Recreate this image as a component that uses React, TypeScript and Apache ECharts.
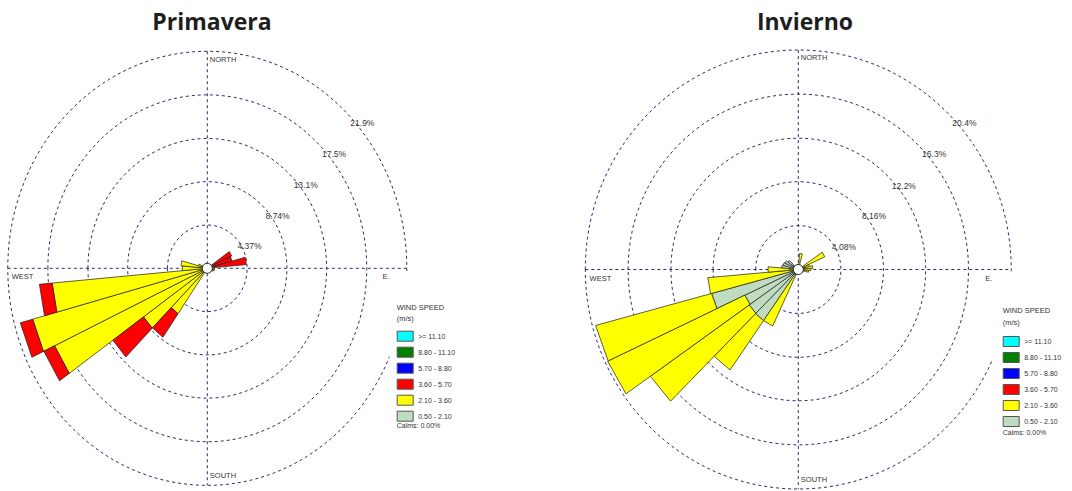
import { useEffect, useRef } from 'react';
import * as echarts from 'echarts';

// Wind speed classes (m/s), from slowest (innermost) to fastest
const speedBins = ['0.50 - 2.10', '2.10 - 3.60', '3.60 - 5.70', '5.70 - 8.80', '8.80 - 11.10', '>= 11.10'];
const speedColors = ['#C0DCC0', '#FFFF00', '#FF0000', '#0000FF', '#008000', '#00FFFF'];

// Primavera: frequency (%) per direction (degrees from north) and speed class
const primaveraDirections = [60, 70, 80, 100, 110, 120, 220, 230, 240, 250, 260, 270, 280, 290];
const primavera050 = [0, 0, 0, 0, 0, 0, 0, 0, 0, 0, 0, 0, 0, 0];
const primavera210 = [0.7, 0.7, 0.8, 0.8, 0.7, 0.5, 5.6, 8.55, 18.5, 19.85, 17.1, 2.75, 2.9, 1.0];
const primavera360 = [2.25, 2.1, 3.5, 0, 0, 0, 2.9, 4.1, 1.3, 1.4, 1.4, 0, 0, 0];
const primaveraRings = [4.37, 8.74, 13.1, 17.5, 21.9];

// Invierno: frequency (%) per direction (degrees from north) and speed class
const inviernoDirections = [10, 60, 70, 80, 90, 100, 210, 220, 230, 240, 250, 260, 270, 280, 290, 300, 310];
const invierno050 = [0.4, 0.5, 0.5, 0.6, 0.5, 0.6, 0.6, 5.8, 5.75, 5.65, 8.6, 0.6, 0.8, 1.6, 1.5, 1.4, 1.2];
const invierno210 = [1.1, 2.3, 0.6, 0.8, 0.7, 0.4, 5.2, 5.6, 11.55, 14.5, 11.5, 8.1, 2.1, 0, 0, 0, 0];
const inviernoRings = [4.08, 8.16, 12.2, 16.3, 20.4];

const calmsText = 'Calms: 0.00%';

const FONT = '"Liberation Sans", Arial, sans-serif';
const RING_COLOR = '#2c2c78';
const TEXT_COLOR = '#333333';

type Layout = {
  cx: number; cy: number; sx: number; sy: number; xr: number; yr: number;
  labelDx: number; labelDy: number;
  title: string; titleX: number;
  legendX: number; legendY: number; windY: number; unitY: number; calmsY: number;
  boxX: number; boxY: number;
};

const layouts: Layout[] = [
  {
    cx: 207.3, cy: 268.3, sx: 9.11, sy: 9.91, xr: 22, yr: 22, labelDx: 14, labelDy: 8.5,
    title: 'Primavera', titleX: 212,
    legendX: 396.7, legendY: 330.7, windY: 307.5, unitY: 318.8, calmsY: 425.5,
    boxX: 389.5, boxY: 271,
  },
  {
    cx: 798.3, cy: 269.5, sx: 10.44, sy: 10.76, xr: 21, yr: 20.5, labelDx: 15.5, labelDy: 9,
    title: 'Invierno', titleX: 805,
    legendX: 1002.7, legendY: 336, windY: 310.7, unitY: 322.3, calmsY: 432.3,
    boxX: 992, boxY: 272,
  },
];

const roses = [
  { directions: primaveraDirections, bins: [primavera050, primavera210, primavera360, [], [], []], rings: primaveraRings },
  { directions: inviernoDirections, bins: [invierno050, invierno210, [], [], [], []], rings: inviernoRings },
];

const dashed = { stroke: RING_COLOR, lineWidth: 1, lineDash: [3, 3] };

function buildOption() {
  const grid: any[] = [];
  const xAxis: any[] = [];
  const yAxis: any[] = [];
  const series: any[] = [];
  const graphic: any[] = [];
  const legend: any[] = [];
  const title: any[] = [];

  roses.forEach((rose, g) => {
    const L = layouts[g];
    grid.push({
      left: L.cx - L.xr * L.sx,
      width: 2 * L.xr * L.sx,
      top: L.cy - L.yr * L.sy,
      height: 2 * L.yr * L.sy,
      containLabel: false,
    });
    xAxis.push({ type: 'value', gridIndex: g, min: -L.xr, max: L.xr, show: false });
    yAxis.push({ type: 'value', gridIndex: g, min: -L.yr, max: L.yr, show: false });

    const R = rose.rings[rose.rings.length - 1];

    // Compass cross and direction names
    series.push({
      type: 'custom',
      name: 'frame' + g,
      coordinateSystem: 'cartesian2d',
      xAxisIndex: g,
      yAxisIndex: g,
      silent: true,
      z: 1,
      data: [[R, 0]],
      renderItem: (_p: any, api: any) => {
        const r = api.value(0);
        const top = api.coord([0, r]);
        const bottom = api.coord([0, -r]);
        const left = api.coord([-r, 0]);
        const right = api.coord([r, 0]);
        const n = api.coord([0, 0.964 * r]);
        const s = api.coord([0, -0.955 * r]);
        const w = api.coord([-0.98 * r, 0]);
        const e = api.coord([0.878 * r, 0]);
        const txt = (text: string, x: number, y: number) => ({
          type: 'text',
          x,
          y,
          style: { text, fontSize: 7.5, fontFamily: FONT, fill: TEXT_COLOR, align: 'left', verticalAlign: 'middle' },
        });
        return {
          type: 'group',
          children: [
            { type: 'line', shape: { x1: top[0], y1: top[1], x2: bottom[0], y2: bottom[1] }, style: dashed },
            { type: 'line', shape: { x1: left[0], y1: left[1], x2: right[0], y2: right[1] }, style: dashed },
            txt('NORTH', n[0] + 2.5, n[1]),
            txt('SOUTH', s[0] + 2.5, s[1]),
            txt('WEST', w[0], w[1] + 8.5),
            txt('E.', e[0], e[1] + 8.5),
          ],
        };
      },
    });

    // Frequency rings with their labels
    series.push({
      type: 'custom',
      name: 'rings' + g,
      coordinateSystem: 'cartesian2d',
      xAxisIndex: g,
      yAxisIndex: g,
      silent: true,
      z: 1,
      data: rose.rings.map((v) => [v, 0]),
      renderItem: (_p: any, api: any) => {
        const v = api.value(0);
        const c = api.coord([0, 0]);
        const sz = api.size([v, v]);
        const p = api.coord([v * Math.SQRT1_2, v * Math.SQRT1_2]);
        return {
          type: 'group',
          children: [
            { type: 'ellipse', shape: { cx: c[0], cy: c[1], rx: sz[0], ry: sz[1] }, style: { ...dashed, fill: 'none' } },
            {
              type: 'text',
              x: p[0] + L.labelDx,
              y: p[1] + L.labelDy,
              style: { text: `${v}%`, fontSize: 8.5, fontFamily: FONT, fill: TEXT_COLOR, align: 'center', verticalAlign: 'middle' },
            },
          ],
        };
      },
    });

    // Petals, stacked from the slowest class outwards
    speedBins.forEach((bin, b) => {
      const data: number[][] = [];
      rose.directions.forEach((d, i) => {
        let r0 = 0;
        for (let k = 0; k < b; k++) r0 += rose.bins[k][i] || 0;
        const val = rose.bins[b][i] || 0;
        if (val > 0) data.push([d, r0, r0 + val]);
      });
      const color = speedColors[b];
      series.push({
        type: 'custom',
        name: bin,
        coordinateSystem: 'cartesian2d',
        xAxisIndex: g,
        yAxisIndex: g,
        z: 2,
        itemStyle: { color, borderColor: '#444', borderWidth: 1 },
        data,
        renderItem: (_p: any, api: any) => {
          const d = api.value(0);
          const r0 = api.value(1);
          const r1 = api.value(2);
          const pt = (r: number, a: number) => {
            const rad = (a * Math.PI) / 180;
            return api.coord([r * Math.sin(rad), r * Math.cos(rad)]);
          };
          return {
            type: 'polygon',
            shape: { points: [pt(r0, d - 5), pt(r1, d - 5), pt(r1, d + 5), pt(r0, d + 5)] },
            style: { fill: color, stroke: '#1a1a1a', lineWidth: 0.7, lineJoin: 'miter' },
          };
        },
      });
    });

    // Calm circle at the centre
    series.push({
      type: 'custom',
      name: 'calm' + g,
      coordinateSystem: 'cartesian2d',
      xAxisIndex: g,
      yAxisIndex: g,
      silent: true,
      z: 3,
      data: [[0, 0]],
      renderItem: (_p: any, api: any) => {
        const c = api.coord([0, 0]);
        return {
          type: 'circle',
          shape: { cx: c[0], cy: c[1], r: 5 },
          style: { fill: '#ffffff', stroke: '#222', lineWidth: 1 },
        };
      },
    });

    title.push({
      text: L.title,
      left: L.titleX,
      top: 9,
      padding: 0,
      textAlign: 'center',
      textStyle: { fontFamily: '"Open Sans", sans-serif', fontWeight: 700, fontSize: 23, color: '#1e1e1e' },
    });

    legend.push({
      orient: 'vertical',
      left: L.legendX,
      top: L.legendY,
      padding: 0,
      itemWidth: 16,
      itemHeight: 10,
      itemGap: 5,
      selectedMode: false,
      z: 6,
      textStyle: { fontSize: 7, fontFamily: FONT, color: TEXT_COLOR, lineHeight: 10 },
      data: speedBins
        .map((name, b) => ({
          name,
          icon: 'rect',
          itemStyle: { color: speedColors[b], borderColor: '#555', borderWidth: 1 },
        }))
        .reverse(),
    });

    graphic.push(
      { type: 'rect', z: 5, silent: true, shape: { x: L.boxX, y: L.boxY, width: 80, height: 170 }, style: { fill: '#ffffff' } },
      {
        type: 'text', z: 7, x: L.legendX, y: L.windY,
        style: { text: 'WIND SPEED', fontSize: 7.5, fontFamily: FONT, fill: TEXT_COLOR, verticalAlign: 'middle' },
      },
      {
        type: 'text', z: 7, x: L.legendX, y: L.unitY,
        style: { text: '(m/s)', fontSize: 7.5, fontFamily: FONT, fill: TEXT_COLOR, verticalAlign: 'middle' },
      },
      {
        type: 'text', z: 7, x: L.legendX, y: L.calmsY,
        style: { text: calmsText, fontSize: 7, fontFamily: FONT, fill: TEXT_COLOR, verticalAlign: 'middle' },
      },
    );
  });

  return {
    animation: false,
    backgroundColor: '#ffffff',
    textStyle: { fontFamily: FONT },
    title,
    legend,
    grid,
    xAxis,
    yAxis,
    series,
    graphic,
  };
}

export default function App() {
  const ref = useRef<HTMLDivElement>(null);
  useEffect(() => {
    if (!ref.current) return;
    const chart = echarts.init(ref.current, undefined, { renderer: 'svg' });
    chart.setOption(buildOption() as any);
    return () => chart.dispose();
  }, []);
  return (
    <div
      ref={ref}
      style={{ position: 'fixed', left: 0, top: 0, width: 1072, height: 491, background: '#fff' }}
    />
  );
}
